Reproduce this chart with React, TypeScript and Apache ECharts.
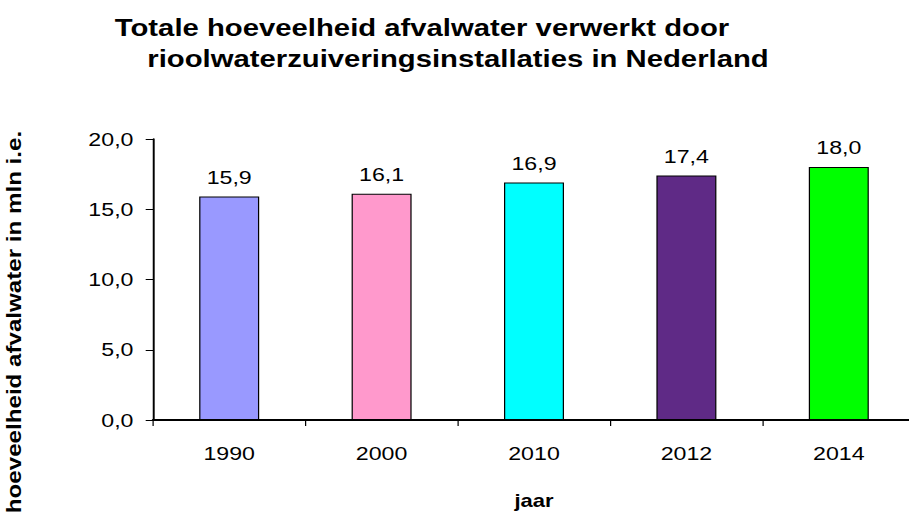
import React, { useEffect, useRef } from "react";
import * as echarts from "echarts";

const categories = ["1990", "2000", "2010", "2012", "2014"];
const values = [15.9, 16.1, 16.9, 17.4, 18.0];
const barColors = ["#9999FF", "#FF99CC", "#00FFFF", "#5F2A86", "#00FF00"];
const titleLines = [
  "Totale hoeveelheid afvalwater verwerkt door",
  "rioolwaterzuiveringsinstallaties in Nederland",
];
const yAxisTitle = "hoeveelheid afvalwater in mln i.e.";
const xAxisTitle = "jaar";

const FONT = "'Liberation Sans', Arial, sans-serif";
const SX = 1.22; // the reference picture is stretched horizontally
const comma = (v: number) => v.toFixed(1).replace(".", ",");

export default function App() {
  const ref = useRef<HTMLDivElement>(null);
  useEffect(() => {
    if (!ref.current) return;
    const chart = echarts.init(ref.current, null, { renderer: "svg" });
    chart.setOption({
      animation: false,
      backgroundColor: "#ffffff",
      textStyle: { fontFamily: FONT },
      graphic: [
        {
          type: "text",
          x: 422 / SX,
          y: 28,
          style: {
            text: titleLines[0],
            font: `bold 24px ${FONT}`,
            fill: "#000",
            align: "center",
            verticalAlign: "middle",
          },
        },
        {
          type: "text",
          x: 458 / SX,
          y: 59,
          style: {
            text: titleLines[1],
            font: `bold 24px ${FONT}`,
            fill: "#000",
            align: "center",
            verticalAlign: "middle",
          },
        },
        {
          type: "text",
          x: 14 / SX,
          y: 322,
          rotation: Math.PI / 2,
          scaleX: 1.42,
          style: {
            text: yAxisTitle,
            font: `bold 17px ${FONT}`,
            fill: "#000",
            align: "center",
            verticalAlign: "middle",
          },
        },
      ],
      grid: { left: 153 / SX, top: 139, bottom: 92, right: 0, containLabel: false },
      xAxis: {
        type: "category",
        data: categories,
        name: xAxisTitle,
        nameLocation: "middle",
        nameGap: 72,
        nameTextStyle: { fontFamily: FONT, fontSize: 18, fontWeight: "bold", color: "#000" },
        axisLine: { lineStyle: { color: "#000", width: 2 } },
        axisTick: { show: true, length: 6, alignWithLabel: false, lineStyle: { color: "#000", width: 1 } },
        axisLabel: { fontFamily: FONT, fontSize: 19, color: "#000", margin: 24 },
        splitLine: { show: false },
      },
      yAxis: {
        type: "value",
        min: 0,
        max: 20,
        interval: 5,
        axisLine: { show: true, lineStyle: { color: "#000", width: 1.6 } },
        axisTick: { show: true, length: 6, lineStyle: { color: "#000", width: 1 } },
        axisLabel: { fontFamily: FONT, fontSize: 19, color: "#000", margin: 16, formatter: comma },
        splitLine: { show: false },
      },
      series: [
        {
          type: "bar",
          barWidth: 60 / SX,
          data: values.map((v, i) => ({
            value: v,
            itemStyle: { color: barColors[i], borderColor: "#000", borderWidth: 1 },
          })),
          label: {
            show: true,
            position: "top",
            distance: 10,
            fontFamily: FONT,
            fontSize: 19,
            color: "#000",
            formatter: (p: any) => comma(p.value),
          },
        },
      ],
    });
    return () => chart.dispose();
  }, []);
  return (
    <div style={{ position: "fixed", left: 0, top: 0, width: 909, height: 515, overflow: "hidden", background: "#fff" }}>
      <div
        ref={ref}
        style={{ width: 915 / SX, height: 515, transform: `scaleX(${SX})`, transformOrigin: "0 0" }}
      />
    </div>
  );
}
